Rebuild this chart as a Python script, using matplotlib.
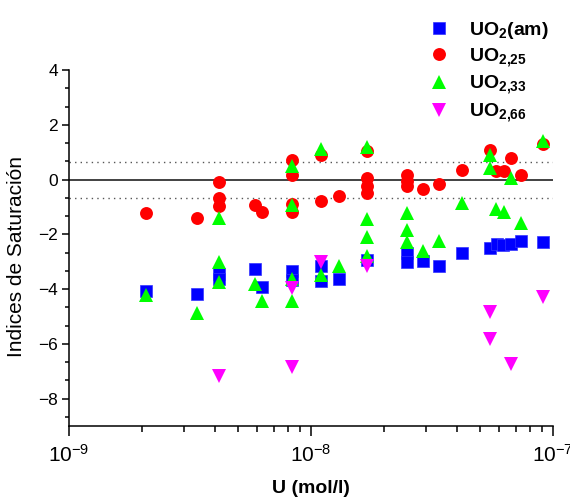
import matplotlib
matplotlib.use("Agg")
import matplotlib.pyplot as plt
from matplotlib.ticker import MultipleLocator, LogLocator, NullFormatter

plt.rcParams['font.family'] = ['Liberation Sans', 'DejaVu Sans']
plt.rcParams['mathtext.fontset'] = 'custom'
plt.rcParams['mathtext.rm'] = 'Liberation Sans'
plt.rcParams['mathtext.bf'] = 'Liberation Sans:bold'

# UO2(am)
am_x = [2.09e-9, 3.37e-9, 4.18e-9, 4.18e-9, 5.87e-9, 6.25e-9, 8.38e-9, 8.38e-9,
        1.1e-8, 1.1e-8, 1.3e-8, 1.7e-8, 2.49e-8, 2.49e-8, 2.9e-8, 3.39e-8,
        4.19e-8, 5.5e-8, 5.85e-8, 6.23e-8, 6.69e-8, 7.38e-8, 9.12e-8]
am_y = [-4.08, -4.17, -3.45, -3.65, -3.26, -3.92, -3.35, -3.67,
        -3.16, -3.69, -3.62, -2.92, -2.68, -3.0, -2.98, -3.16,
        -2.68, -2.49, -2.37, -2.40, -2.37, -2.23, -2.27]

# UO2,25
u25_x = [2.09e-9, 3.37e-9, 4.18e-9, 4.18e-9, 4.18e-9, 5.87e-9, 6.25e-9,
         8.38e-9, 8.38e-9, 8.38e-9, 8.38e-9, 1.1e-8, 1.1e-8, 1.3e-8,
         1.7e-8, 1.7e-8, 1.7e-8, 1.7e-8, 2.49e-8, 2.49e-8, 2.49e-8,
         2.9e-8, 3.39e-8, 4.19e-8, 5.5e-8, 5.81e-8, 6.29e-8, 6.69e-8,
         7.38e-8, 9.12e-8]
u25_y = [-1.22, -1.42, -0.10, -0.69, -0.97, -0.94, -1.19,
         0.70, 0.18, -0.88, -1.18, 0.91, -0.77, -0.61,
         1.03, 0.06, -0.22, -0.49, 0.18, -0.06, -0.24,
         -0.34, -0.18, 0.36, 1.07, 0.30, 0.30, 0.77,
         0.15, 1.28]

# UO2,33
u33_x = [2.09e-9, 3.37e-9, 4.18e-9, 4.18e-9, 4.18e-9, 5.87e-9, 6.25e-9,
         8.38e-9, 8.38e-9, 8.38e-9, 8.38e-9, 1.1e-8, 1.1e-8, 1.3e-8,
         1.7e-8, 1.7e-8, 1.7e-8, 1.7e-8, 2.49e-8, 2.49e-8, 2.49e-8,
         2.9e-8, 3.39e-8, 4.19e-8, 5.5e-8, 5.5e-8, 5.81e-8, 6.29e-8,
         6.69e-8, 7.38e-8, 9.12e-8]
u33_y = [-4.20, -4.87, -1.40, -3.02, -3.73, -3.81, -4.44,
         0.51, -0.94, -3.62, -4.44, 1.12, -3.47, -3.16,
         1.19, -1.44, -2.10, -2.80, -1.24, -1.86, -2.29,
         -2.62, -2.25, -0.85, 0.91, 0.43, -1.09, -1.19,
         0.06, -1.58, 1.40]

# UO2,66
u66_x = [4.18e-9, 8.38e-9, 8.38e-9, 1.1e-8, 1.7e-8, 5.5e-8, 5.5e-8, 6.69e-8, 9.12e-8]
u66_y = [-7.18, -3.95, -6.85, -3.0, -3.16, -4.84, -5.81, -6.75, -4.28]

fig = plt.figure(figsize=(5.7, 5.03), dpi=100)
ax = fig.add_axes([69/570, 1-426/503, (553-69)/570, (426-70)/503])

ax.axhline(0, color='#333333', lw=1.3, zorder=1)
ax.axhline(0.65, color='#555555', lw=1, ls=(0, (1, 3)), zorder=1)
ax.axhline(-0.67, color='#555555', lw=1, ls=(0, (1, 3)), zorder=1)

ax.plot(am_x, am_y, 's', color='#0000ff', ms=8.5, mec='#3333ff', mew=0.5, label=r'$\mathbf{UO_2(am)}$', zorder=3)
ax.plot(u25_x, u25_y, 'o', color='#ff0000', ms=9.3, mew=0, label=r'$\mathbf{UO_{2{,}25}}$', zorder=4)
ax.plot(u33_x, u33_y, '^', color='#00ff00', ms=10, mew=0, label=r'$\mathbf{UO_{2{,}33}}$', zorder=5)
ax.plot(u66_x, u66_y, 'v', color='#ff00ff', ms=10, mew=0, label=r'$\mathbf{UO_{2{,}66}}$', zorder=6)

ax.set_xscale('log')
ax.set_xlim(1e-9, 1e-7)
ax.set_ylim(-9, 4)
ax.set_yticks([4, 2, 0, -2, -4, -6, -8])
ax.yaxis.set_minor_locator(MultipleLocator(2/3))
ax.xaxis.set_minor_locator(LogLocator(base=10, subs=range(2, 10)))
ax.xaxis.set_minor_formatter(NullFormatter())

for s in ['top', 'right']:
    ax.spines[s].set_visible(False)
for s in ['left', 'bottom']:
    ax.spines[s].set_linewidth(1.1)

ax.tick_params(axis='y', which='major', direction='out', length=5, width=1.1, labelsize=12.5, pad=3)
ax.tick_params(axis='y', which='minor', direction='out', length=3, width=1.1)
ax.tick_params(axis='x', which='major', direction='out', length=7, width=1.1, labelsize=15, pad=6)
ax.tick_params(axis='x', which='minor', direction='out', length=4, width=1.1)

ax.set_ylabel('Indices de Saturación', fontsize=15)
ax.yaxis.set_label_coords(-0.088, 0.475)
ax.set_xlabel('U (mol/l)', fontsize=14, fontweight='bold', labelpad=10)

fig.legend(loc='upper left', bbox_to_anchor=(420/570, 1 - 12/503), frameon=False,
           fontsize=14, handletextpad=0.9, labelspacing=0.25, borderaxespad=0,
           handlelength=1.2)

fig.savefig('out.png', dpi=100)
